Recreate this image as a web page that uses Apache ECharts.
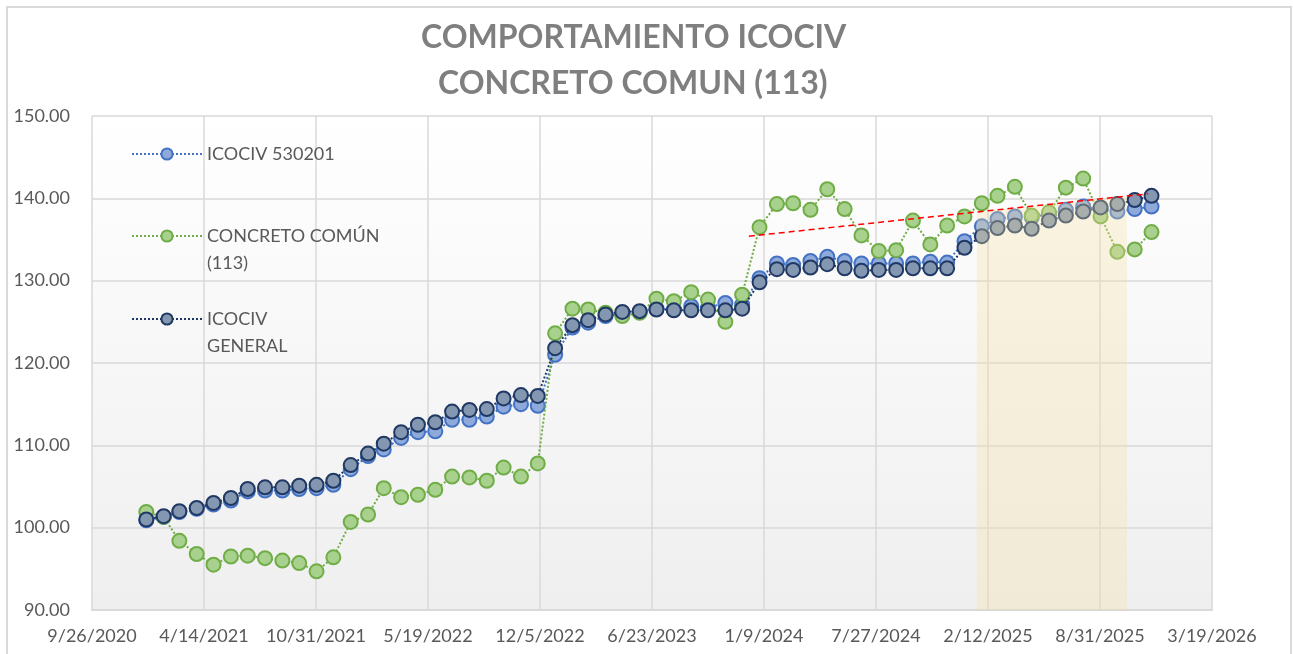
<!DOCTYPE html>
<html lang="es">
<head>
    <meta charset="UTF-8">
    <title>Comportamiento ICOCIV</title>
    <style>
        html, body { margin: 0; padding: 0; background: #ffffff; }
        #chart { width: 1293px; height: 654px; }
    </style>
    <script src="https://cdn.jsdelivr.net/npm/echarts@6/dist/echarts.min.js"></script>
</head>
<body>
<div id="chart"></div>
<script>
    // meses (primer dia de cada mes)
    var months = [
        '2021-01','2021-02','2021-03','2021-04','2021-05','2021-06','2021-07','2021-08','2021-09','2021-10','2021-11','2021-12',
        '2022-01','2022-02','2022-03','2022-04','2022-05','2022-06','2022-07','2022-08','2022-09','2022-10','2022-11','2022-12',
        '2023-01','2023-02','2023-03','2023-04','2023-05','2023-06','2023-07','2023-08','2023-09','2023-10','2023-11','2023-12',
        '2024-01','2024-02','2024-03','2024-04','2024-05','2024-06','2024-07','2024-08','2024-09','2024-10','2024-11','2024-12',
        '2025-01','2025-02','2025-03','2025-04','2025-05','2025-06','2025-07','2025-08','2025-09','2025-10','2025-11','2025-12'
    ];

    var icociv530201 = [
        100.9, 101.3, 101.9, 102.3, 102.8, 103.3, 104.4, 104.5, 104.5, 104.7, 104.8, 105.2,
        107.1, 108.7, 109.5, 110.9, 111.6, 111.7, 113.1, 113.1, 113.5, 114.7, 115.0, 114.8,
        121.0, 124.3, 124.9, 125.7, 125.9, 126.2, 126.6, 126.5, 126.9, 126.7, 127.3, 127.1,
        130.3, 132.1, 131.9, 132.4, 132.9, 132.4, 132.1, 132.1, 132.1, 132.1, 132.3, 132.2,
        134.8, 136.6, 137.5, 137.8, 137.7, 138.1, 138.6, 139.0, 138.7, 138.4, 138.7, 139.0
    ];

    var concretoComun = [
        101.9, 101.3, 98.4, 96.8, 95.5, 96.5, 96.6, 96.3, 96.0, 95.7, 94.7, 96.4,
        100.7, 101.6, 104.8, 103.7, 104.0, 104.6, 106.2, 106.1, 105.7, 107.3, 106.2, 107.8,
        123.6, 126.6, 126.5, 126.1, 125.7, 126.1, 127.8, 127.5, 128.6, 127.7, 125.0, 128.3,
        136.5, 139.3, 139.4, 138.6, 141.1, 138.7, 135.5, 133.6, 133.7, 137.3, 134.4, 136.7,
        137.8, 139.4, 140.3, 141.4, 137.9, 138.3, 141.3, 142.4, 137.8, 133.5, 133.8, 135.9
    ];

    var icocivGeneral = [
        101.0, 101.4, 102.0, 102.4, 103.0, 103.6, 104.7, 104.9, 104.9, 105.1, 105.2, 105.7,
        107.6, 109.0, 110.2, 111.6, 112.5, 112.8, 114.1, 114.3, 114.4, 115.7, 116.1, 116.0,
        121.8, 124.6, 125.2, 125.9, 126.2, 126.3, 126.5, 126.4, 126.4, 126.4, 126.4, 126.6,
        129.8, 131.4, 131.3, 131.6, 132.0, 131.5, 131.2, 131.3, 131.3, 131.5, 131.5, 131.5,
        134.0, 135.4, 136.4, 136.7, 136.3, 137.3, 137.9, 138.4, 138.9, 139.3, 139.8, 140.3
    ];

    // linea de tendencia (roja) y zona sombreada
    var trendDates = ['2023-12-13', '2025-11-25'];
    var trendValues = [135.4, 140.55];
    var shadeDates = ['2025-01-23', '2025-10-18'];
    var shadeValues = [138.34, 140.27];

    var xTickLabels = ['9/26/2020', '4/14/2021', '10/31/2021', '5/19/2022', '12/5/2022', '6/23/2023',
        '1/9/2024', '7/27/2024', '2/12/2025', '8/31/2025', '3/19/2026'];
    var yTicks = [90, 100, 110, 120, 130, 140, 150];

    // dias desde 9/26/2020
    var DAY = 86400000;
    var ORIGIN = Date.UTC(2020, 8, 26);
    function dayOf(s) {
        var p = s.split('-');
        return (Date.UTC(+p[0], +p[1] - 1, p[2] ? +p[2] : 1) - ORIGIN) / DAY;
    }
    function pairs(ds, vs) {
        var out = [];
        for (var i = 0; i < ds.length; i++) out.push([dayOf(ds[i]), vs[i]]);
        return out;
    }

    var FONT = 'Lato, "Liberation Sans", sans-serif';
    var TXT = '#595959';

    function lineSeries(name, values, lineColor, fillColor, z) {
        return {
            name: name,
            type: 'line',
            data: pairs(months, values),
            symbol: 'circle',
            symbolSize: 14,
            z: z,
            lineStyle: { color: lineColor, width: 2, type: 'dotted' },
            itemStyle: { color: fillColor, borderColor: lineColor, borderWidth: 2 },
            emphasis: { disabled: true },
            animation: false
        };
    }

    function legendAt(name, top) {
        return {
            data: [name],
            left: 131,
            top: top,
            padding: 0,
            itemWidth: 70,
            itemHeight: 14,
            itemGap: 5,
            selectedMode: false,
            formatter: function (n) {
                if (n === 'CONCRETO COMÚN (113)') return '\nCONCRETO COMÚN\n(113)';
                if (n === 'ICOCIV GENERAL') return '\nICOCIV\nGENERAL';
                return n;
            },
            textStyle: { color: TXT, fontSize: 18, lineHeight: 27, fontFamily: FONT }
        };
    }

    function titleLine(text, left, top) {
        return {
            text: text,
            left: left,
            top: top,
            padding: 0,
            textStyle: { color: '#7f7f7f', fontSize: 32, fontWeight: 'bold', lineHeight: 46, fontFamily: FONT }
        };
    }

    var chart = echarts.init(document.getElementById('chart'));
    var option = {
        backgroundColor: '#ffffff',
        animation: false,
        title: [
            titleLine('COMPORTAMIENTO ICOCIV', 421, 15),
            titleLine('CONCRETO COMUN (113)', 438, 61)
        ],
        legend: [
            legendAt('ICOCIV 530201', 140.5),
            legendAt('CONCRETO COMÚN (113)', 195.5),
            legendAt('ICOCIV GENERAL', 278.5)
        ],
        grid: {
            left: 92, right: 81, top: 116, bottom: 44,
            show: true,
            borderWidth: 0,
            backgroundColor: new echarts.graphic.LinearGradient(0, 0, 0, 1, [
                { offset: 0, color: '#ffffff' },
                { offset: 1, color: '#efefef' }
            ])
        },
        xAxis: {
            type: 'value',
            min: 0,
            max: 2000,
            interval: 200,
            axisLine: { show: true, lineStyle: { color: '#d9d9d9', width: 2 } },
            axisTick: { show: false },
            splitLine: { show: true, lineStyle: { color: '#d9d9d9', width: 1.5 } },
            axisLabel: {
                color: TXT, fontSize: 18, fontFamily: FONT, margin: 17,
                formatter: function (v) { return xTickLabels[Math.round(v / 200)]; }
            }
        },
        yAxis: {
            type: 'value',
            min: yTicks[0],
            max: yTicks[yTicks.length - 1],
            interval: 10,
            axisLine: { show: false },
            axisTick: { show: false },
            splitLine: { show: true, lineStyle: { color: '#d9d9d9', width: 1.5 } },
            axisLabel: {
                color: TXT, fontSize: 18, fontFamily: FONT, margin: 22,
                formatter: function (v) { return v.toFixed(2); }
            }
        },
        series: [
            lineSeries('ICOCIV 530201', icociv530201, '#4472c4', '#8eaadb', 3),
            lineSeries('CONCRETO COMÚN (113)', concretoComun, '#70ad47', '#a9d18e', 4),
            lineSeries('ICOCIV GENERAL', icocivGeneral, '#203864', '#8497b0', 5),
            {
                name: 'zona',
                type: 'line',
                data: pairs(shadeDates, shadeValues),
                symbol: 'none',
                z: 6,
                lineStyle: { width: 0 },
                areaStyle: { origin: 'start', color: 'rgba(242, 222, 160, 0.45)' },
                silent: true
            },
            {
                name: 'tendencia',
                type: 'line',
                data: pairs(trendDates, trendValues),
                symbol: 'none',
                z: 7,
                lineStyle: { color: '#ff0000', width: 1.5, type: [6, 4] },
                silent: true
            }
        ],
        graphic: [{
            type: 'rect',
            shape: { x: 7, y: 7, width: 1284, height: 700 },
            style: { fill: 'none', stroke: '#d9d9d9', lineWidth: 2 },
            silent: true,
            z: -1
        }]
    };
    chart.setOption(option);
</script>
</body>
</html>
